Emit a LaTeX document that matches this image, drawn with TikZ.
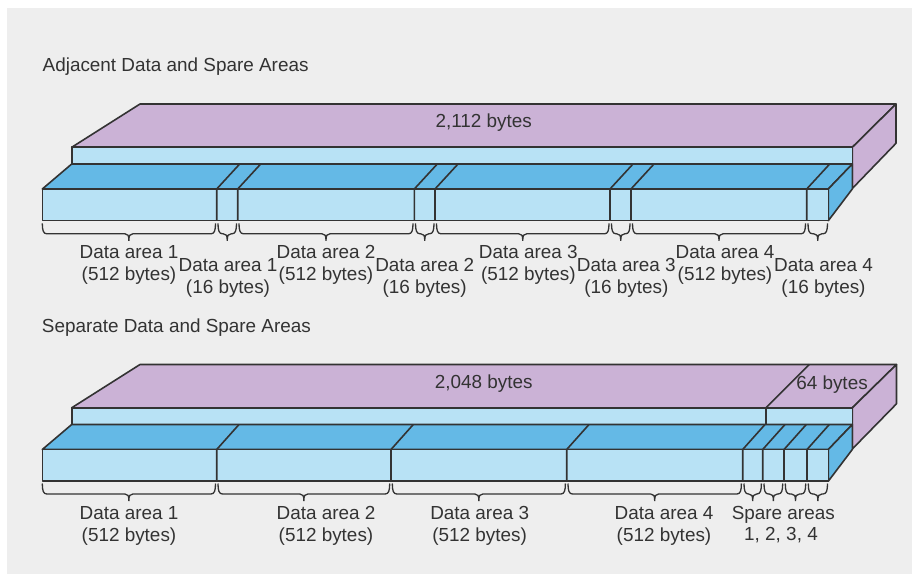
\documentclass[tikz,border=0pt]{standalone}
\usepackage{fontspec}
\setmainfont{Liberation Sans}
\definecolor{bg}{HTML}{EEEEEE}
\definecolor{purp}{HTML}{CBB2D6}
\definecolor{lblue}{HTML}{B8E2F5}
\definecolor{mblue}{HTML}{64B9E6}
\definecolor{ink}{HTML}{333333}
\tikzset{
  edge/.style={draw=ink, line width=1.6bp, line join=round},
  brc/.style={draw=ink, line width=1.3bp},
  lbl/.style={anchor=base, inner sep=0pt, text=ink, font=\fontsize{18.9bp}{22bp}\selectfont},
  ttl/.style={lbl, anchor=base west},
}
\newcommand{\drawbrace}[3]{%
  \pgfmathsetmacro{\bmid}{(#1+#2)/2}%
  \draw[brc] (#1,#3) .. controls (#1,#3+7) and (#1+1,#3+10.5) .. (#1+4.5,#3+10.5)
    -- (\bmid-4,#3+10.5) .. controls (\bmid-1,#3+10.5) and (\bmid,#3+12) .. (\bmid,#3+17.5)
    .. controls (\bmid,#3+12) and (\bmid+1,#3+10.5) .. (\bmid+4,#3+10.5)
    -- (#2-4.5,#3+10.5) .. controls (#2-1,#3+10.5) and (#2,#3+7) .. (#2,#3);}
\begin{document}
\begin{tikzpicture}[x=1bp,y=-1bp]
\useasboundingbox (0,0) rectangle (919,574);
\fill[bg] (7,8) rectangle (912,574);

% ---------------- top diagram ----------------
\node[ttl] (t1) at (42.5,71.8) {Adjacent Data and Spare Areas};
\filldraw[edge, fill=purp] (71.7,147.3) -- (140,104) -- (896,104) -- (852.3,147.3) -- cycle;
\filldraw[edge, fill=purp] (852.3,147.3) -- (896,104) -- (896,143.3) -- (852.3,188.5) -- cycle;
\filldraw[edge, fill=lblue] (71.7,147.3) rectangle (852.3,164);
\filldraw[edge, fill=mblue] (42.3,189) -- (71.7,164) -- (852.3,164) -- (828.3,189) -- cycle;
\filldraw[edge, fill=mblue] (828.3,189) -- (852.3,164) -- (852.3,189) -- (828.3,220.7) -- cycle;
\filldraw[edge, fill=lblue] (42.3,189) rectangle (828.3,220.7);
\foreach \x in {216.7,237.7,414.3,435,610,631,806.7}{
  \draw[edge] (\x,220.7) -- (\x,189) -- (\x+23,164);
}
\node[lbl] (s1) at (483.7,127.3) {2,112 bytes};
\foreach \a/\b in {42.3/215.5,218/236.5,239/413,415.5/434,436.5/609,611.5/630,632.5/805.5,808/827.5}{
  \drawbrace{\a}{\b}{223.3}
}
\node[lbl] (a1) at (129,258.5) {Data area 1};
\node[lbl] (a1b) at (129,280.8) {(512 bytes)};
\node[lbl] (p1) at (228,271.3) {Data area 1};
\node[lbl] (p1b) at (228,293.6) {(16 bytes)};
\node[lbl] (a2) at (326,258.5) {Data area 2};
\node[lbl] (a2b) at (326,280.8) {(512 bytes)};
\node[lbl] (p2) at (424.7,271.3) {Data area 2};
\node[lbl] (p2b) at (424.7,293.6) {(16 bytes)};
\node[lbl] (a3) at (528.3,258.5) {Data area 3};
\node[lbl] (a3b) at (528.3,280.8) {(512 bytes)};
\node[lbl] (p3) at (626.3,271.3) {Data area 3};
\node[lbl] (p3b) at (626.3,293.6) {(16 bytes)};
\node[lbl] (a4) at (725,258.5) {Data area 4};
\node[lbl] (a4b) at (725,280.8) {(512 bytes)};
\node[lbl] (p4) at (823.5,271.3) {Data area 4};
\node[lbl] (p4b) at (823.5,293.6) {(16 bytes)};

% ---------------- bottom diagram ----------------
\begin{scope}[shift={(0,260.5)}]
\node[ttl] (t2) at (41.7,71.8) {Separate Data and Spare Areas};
\filldraw[edge, fill=purp] (71.7,147.3) -- (140,104) -- (896.5,104) -- (852.3,147.3) -- cycle;
\filldraw[edge, fill=purp] (852.3,147.3) -- (896.5,104) -- (896.5,143.3) -- (852.3,188.5) -- cycle;
\filldraw[edge, fill=lblue] (71.7,147.3) rectangle (852.3,164);
\draw[edge] (766,164) -- (766,147.3) -- (809.3,104);
\filldraw[edge, fill=mblue] (42.3,189) -- (71.7,164) -- (852.3,164) -- (828.3,189) -- cycle;
\filldraw[edge, fill=mblue] (828.3,189) -- (852.3,164) -- (852.3,189) -- (828.3,220.7) -- cycle;
\filldraw[edge, fill=lblue] (42.3,189) rectangle (828.3,220.7);
\foreach \x in {216.7,391,566.7,742.7,762.7,784,807}{
  \draw[edge] (\x,220.7) -- (\x,189) -- (\x+22.3,164);
}
\node[lbl] (s2) at (483.8,127.8) {2,048 bytes};
\node[lbl] (s3) at (832,129.2) {64 bytes};
\foreach \a/\b in {42.3/215.5,218/389.7,392.3/565.4,568/741.4,744/761.4,764/782.7,785.3/805.7,808.3/827.5}{
  \drawbrace{\a}{\b}{223}
}
\node[lbl] (b1) at (129,258.5) {Data area 1};
\node[lbl] (b1b) at (129,280.8) {(512 bytes)};
\node[lbl] (b2) at (326,258.5) {Data area 2};
\node[lbl] (b2b) at (326,280.8) {(512 bytes)};
\node[lbl] (b3) at (479.7,258.5) {Data area 3};
\node[lbl] (b3b) at (479.7,280.8) {(512 bytes)};
\node[lbl] (b4) at (664,258.5) {Data area 4};
\node[lbl] (b4b) at (664,280.8) {(512 bytes)};
\node[lbl] (sp) at (783.3,259) {Spare areas};
\node[lbl] (spb) at (781,280.3) {1, 2, 3, 4};
\end{scope}
\end{tikzpicture}
\end{document}
